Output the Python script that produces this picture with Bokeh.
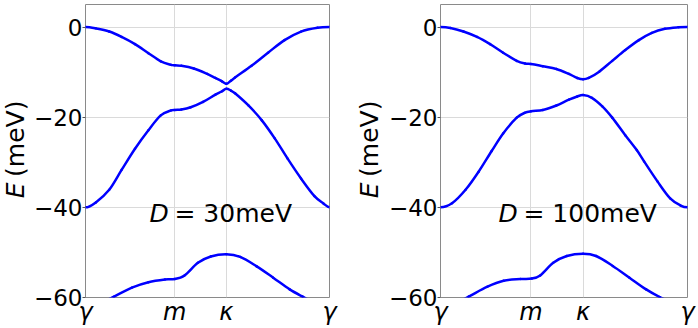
import math
from bokeh.plotting import figure
from bokeh.layouts import row
from bokeh.models import Range1d, FixedTicker, CustomJSTickFormatter, Label
from bokeh.embed import file_html
from bokeh.resources import INLINE

# ---- axis ticks ----
K_TICKS = [0.0, 0.866, 1.366, 2.366]
K_LABELS = ["γ", "m", "κ", "γ"]
E_TICKS = [-60, -40, -20, 0]

# ---- D = 30 meV panel ----
l_k1 = [0, 0.10, 0.23, 0.35, 0.48, 0.61, 0.73, 0.83, 0.866, 0.93, 1.05, 1.18, 1.26, 1.32, 1.366, 1.41, 1.45, 1.61, 1.77, 1.93, 2.09, 2.25, 2.366]
l_e1 = [0, -0.3, -1.0, -2.2, -3.8, -5.8, -7.6, -8.4, -8.5, -8.6, -9.2, -10.4, -11.3, -12.0, -12.6, -11.9, -11.2, -8.6, -5.7, -2.9, -1.0, -0.15, 0]

l_k2 = [0, 0.10, 0.23, 0.35, 0.48, 0.61, 0.73, 0.83, 0.866, 0.93, 1.02, 1.14, 1.26, 1.32, 1.366, 1.41, 1.45, 1.58, 1.71, 1.835, 1.96, 2.09, 2.22, 2.31, 2.366]
l_e2 = [-40.0, -38.9, -36.1, -31.7, -27.0, -22.9, -19.6, -18.5, -18.4, -18.3, -17.8, -16.6, -15.0, -14.3, -13.7, -14.1, -14.7, -17.4, -20.7, -24.7, -29.2, -33.6, -37.5, -39.2, -40.0]

l_k3 = [0, 0.15, 0.277, 0.45, 0.61, 0.77, 0.866, 0.96, 1.09, 1.215, 1.366, 1.50, 1.66, 1.82, 1.98, 2.105, 2.25, 2.366]
l_e3 = [-62.5, -61.2, -59.8, -57.8, -56.6, -56.0, -55.9, -55.1, -52.3, -50.9, -50.4, -51.0, -53.1, -55.6, -58.2, -59.8, -61.5, -62.3]

# ---- D = 100 meV panel ----
r_k1 = [0, 0.095, 0.22, 0.35, 0.475, 0.60, 0.73, 0.81, 0.866, 0.98, 1.11, 1.23, 1.31, 1.366, 1.42, 1.52, 1.645, 1.77, 1.90, 2.025, 2.15, 2.28, 2.366]
r_e1 = [0, -0.2, -1.0, -2.2, -3.8, -5.7, -7.5, -8.1, -8.2, -8.7, -9.3, -10.4, -11.3, -11.6, -11.3, -9.9, -7.5, -5.1, -2.9, -1.3, -0.4, -0.05, 0]

r_k2 = [0, 0.11, 0.24, 0.365, 0.49, 0.60, 0.73, 0.81, 0.866, 0.98, 1.11, 1.23, 1.31, 1.366, 1.45, 1.55, 1.645, 1.77, 1.88, 1.95, 2.08, 2.20, 2.30, 2.366]
r_e2 = [-40.0, -39.1, -36.1, -32.1, -27.5, -23.6, -20.1, -19.0, -18.7, -18.4, -17.4, -16.1, -15.4, -15.1, -15.7, -17.6, -20.1, -24.0, -27.3, -29.8, -34.3, -38.0, -39.6, -40.0]

r_k3 = [0, 0.15, 0.27, 0.45, 0.605, 0.765, 0.875, 0.955, 1.08, 1.21, 1.366, 1.49, 1.65, 1.81, 1.97, 2.10, 2.25, 2.366]
r_e3 = [-62.5, -61.2, -59.8, -57.6, -56.3, -55.9, -55.8, -55.1, -52.3, -50.8, -50.3, -50.8, -53.0, -55.6, -58.2, -59.9, -61.5, -62.3]

FONT = "DejaVu Sans"
BLUE = "#0000ff"
H = 328


def smooth_segments(ks, es):
    """Cubic Hermite (Bezier) segments through the read points."""
    n = len(ks)
    slopes = [0.0] * n
    for i in range(1, n - 1):
        slopes[i] = (es[i + 1] - es[i - 1]) / (ks[i + 1] - ks[i - 1])
    seg = dict(x0=[], y0=[], x1=[], y1=[], cx0=[], cy0=[], cx1=[], cy1=[])
    for i in range(n - 1):
        h = ks[i + 1] - ks[i]
        seg["x0"].append(ks[i]); seg["y0"].append(es[i])
        seg["x1"].append(ks[i + 1]); seg["y1"].append(es[i + 1])
        seg["cx0"].append(ks[i] + h / 3); seg["cy0"].append(es[i] + slopes[i] * h / 3)
        seg["cx1"].append(ks[i + 1] - h / 3); seg["cy1"].append(es[i + 1] - slopes[i + 1] * h / 3)
    return seg


def make_label_fig(width, x0, center_x):
    f = figure(width=width, height=H, x_range=Range1d(x0, x0 + width),
               y_range=Range1d(0, H), output_backend="svg", toolbar_location=None,
               x_axis_location=None, y_axis_location=None,
               min_border_left=0, min_border_right=0, min_border_top=0, min_border_bottom=0,
               background_fill_color="white", border_fill_color="white")
    f.outline_line_color = None
    f.grid.visible = False
    f.add_layout(Label(x=center_x, y=111, text="E", angle=math.pi / 2,
                       text_align="left", text_baseline="alphabetic",
                       text_font=FONT, text_font_size="25px",
                       text_font_style="italic", text_color="black"))
    f.add_layout(Label(x=center_x, y=135, text="(meV)", angle=math.pi / 2,
                       text_align="left", text_baseline="alphabetic",
                       text_font=FONT, text_font_size="25px",
                       text_color="black"))
    return f


def make_panel(bands, d_value, d_x, width, b_left, b_right):
    p = figure(width=width, height=H,
               x_range=Range1d(0, 2.366), y_range=Range1d(-60, 5),
               output_backend="svg", toolbar_location=None,
               min_border_left=b_left, min_border_right=b_right,
               min_border_top=4, min_border_bottom=30,
               background_fill_color="white", border_fill_color="white")
    p.outline_line_color = "#8a8a8a"
    p.outline_line_width = 1

    p.xaxis.ticker = FixedTicker(ticks=K_TICKS)
    p.xaxis.formatter = CustomJSTickFormatter(
        args=dict(kt=K_TICKS, labels=K_LABELS),
        code="""let b = 0;
for (let i = 0; i < kt.length; i++) { if (Math.abs(kt[i] - tick) < Math.abs(kt[b] - tick)) b = i; }
return labels[b];""")
    p.yaxis.ticker = FixedTicker(ticks=E_TICKS)
    p.yaxis.formatter = CustomJSTickFormatter(
        code="return tick < 0 ? '\\u2212' + Math.abs(tick) : String(tick);")

    for ax in (p.xaxis[0], p.yaxis[0]):
        ax.axis_line_color = None
        ax.major_tick_line_color = "#555555"
        ax.major_tick_out = 3
        ax.major_tick_in = 0
        ax.minor_tick_line_color = None
        ax.major_label_text_font = FONT
        ax.major_label_text_font_size = "23px"
        ax.major_label_text_color = "black"
        ax.major_label_standoff = 0
    p.xaxis.major_label_text_font_size = "24px"
    p.xaxis.major_label_text_font_style = "italic"
    p.xaxis.major_tick_out = 0
    p.xaxis.major_tick_line_color = None

    p.xgrid.grid_line_color = "#dadada"
    p.ygrid.grid_line_color = "#dadada"
    p.xgrid.grid_line_width = 1
    p.ygrid.grid_line_width = 1

    for ks, es in bands:
        seg = smooth_segments(ks, es)
        p.bezier(line_color=BLUE, line_width=2.5, line_cap="round", **seg)

    # annotation D = ... meV
    p.add_layout(Label(x=d_x, y=-41.3, text="D", text_align="left",
                       text_baseline="alphabetic", text_font=FONT,
                       text_font_size="25px", text_font_style="italic",
                       text_color="black"))
    p.add_layout(Label(x=d_x, y=-41.3, text="= " + d_value + "meV", x_offset=25,
                       text_align="left", text_baseline="alphabetic",
                       text_font=FONT, text_font_size="25px", text_color="black"))
    return p


lab1 = make_label_fig(30, 0, 15)
p1 = make_panel([(l_k1, l_e1), (l_k2, l_e2), (l_k3, l_e3)], "30", 0.62, 315, 51, 16)
lab2 = make_label_fig(40, 345, 369)
p2 = make_panel([(r_k1, r_e1), (r_k2, r_e2), (r_k3, r_e3)], "100", 0.555, 313, 53, 11)

layout = row(lab1, p1, lab2, p2, spacing=0)
open("out.html", "w").write(file_html(layout, INLINE))
